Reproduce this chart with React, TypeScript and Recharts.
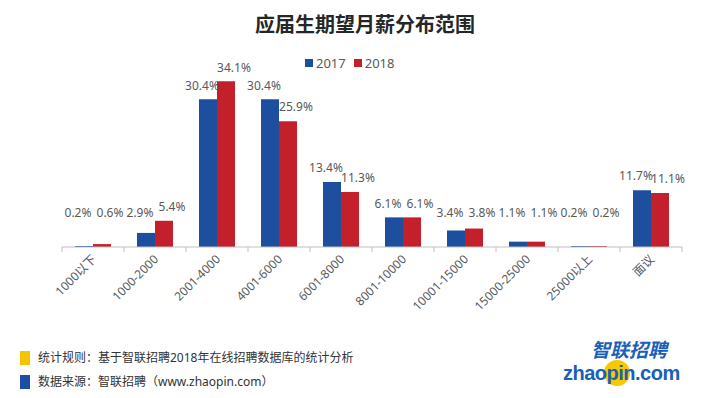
import { Bar, BarChart, LabelList, XAxis, YAxis } from 'recharts';

const CATEGORIES = ['1000以下', '1000-2000', '2001-4000', '4001-6000', '6001-8000', '8001-10000', '10001-15000', '15000-25000', '25000以上', '面议'];
const Y2017 = [0.2, 2.9, 30.4, 30.4, 13.4, 6.1, 3.4, 1.1, 0.2, 11.7];
const Y2018 = [0.6, 5.4, 34.1, 25.9, 11.3, 6.1, 3.8, 1.1, 0.2, 11.1];

const BLUE = '#1d4f9e';
const RED = '#c3202b';
const TEXT = '#595959';
const FONT = '"Noto Sans", "Noto Sans CJK SC", sans-serif';

const W = 720;
const H = 335;
const MARGIN = { top: 77, right: 38, bottom: 0, left: 62 };
const XAXIS_H = 88;
const BASE = H - MARGIN.bottom - XAXIS_H;
const BAND = (W - MARGIN.left - MARGIN.right) / CATEGORIES.length;

const data = CATEGORIES.map((name, i) => ({ name, y2017: Y2017[i], y2018: Y2018[i] }));

const AxisTick = (props: any) => {
  const { x, payload, index } = props;
  const last = index === CATEGORIES.length - 1;
  return (
    <g>
      <line x1={x - BAND / 2} x2={x - BAND / 2} y1={BASE} y2={BASE + 5} stroke="#bfbfbf" />
      {last && <line x1={x + BAND / 2} x2={x + BAND / 2} y1={BASE} y2={BASE + 5} stroke="#bfbfbf" />}
      <text
        x={x + 4}
        y={BASE + 13}
        transform={`rotate(-45 ${x + 4} ${BASE + 13})`}
        textAnchor="end"
        fontSize={12}
        fill={TEXT}
        fontFamily={FONT}
      >
        {payload.value}
      </text>
    </g>
  );
};

// shift: blue labels lean left, red labels lean right, like the source
const makeLabel = (shift: number) => (props: any) => {
  const { x, y, width, value } = props;
  const cy = Math.min(y - 14, BASE - 34);
  return (
    <text x={x + width / 2 + shift} y={cy} dy="0.35em" textAnchor="middle" fontSize={12} fill={TEXT} fontFamily={FONT}>
      {`${value.toFixed(1)}%`}
    </text>
  );
};
const BlueLabel = makeLabel(-6);
const RedLabel = makeLabel(8);

export default function App() {
  return (
    <div style={{ position: 'fixed', left: 0, top: 0, width: W, height: 398, background: '#fff', overflow: 'hidden', fontFamily: FONT }}>
      <div
        style={{
          position: 'absolute',
          left: 0,
          width: W,
          top: 9,
          textAlign: 'center',
          fontSize: 20,
          fontWeight: 'bold',
          color: '#262626',
          paddingLeft: 5,
          fontFamily: '"Noto Sans CJK SC", sans-serif',
        }}
      >
        应届生期望月薪分布范围
      </div>
      <div style={{ position: 'absolute', left: 0, top: 0 }}>
        <BarChart width={W} height={H} data={data} margin={MARGIN} barGap={0} barSize={18}>
          <YAxis hide domain={[0, 35]} />
          <XAxis
            dataKey="name"
            interval={0}
            height={XAXIS_H}
            tickLine={false}
            axisLine={{ stroke: '#bfbfbf' }}
            tick={<AxisTick />}
          />
          <Bar dataKey="y2017" name="2017" fill={BLUE} isAnimationActive={false}>
            <LabelList dataKey="y2017" content={<BlueLabel />} />
          </Bar>
          <Bar dataKey="y2018" name="2018" fill={RED} isAnimationActive={false}>
            <LabelList dataKey="y2018" content={<RedLabel />} />
          </Bar>
        </BarChart>
      </div>
      <div
        style={{ position: 'absolute', left: 305, top: 54, display: 'flex', gap: 8, fontSize: 13, color: TEXT, alignItems: 'center' }}
      >
        {[{ c: BLUE, t: '2017' }, { c: RED, t: '2018' }].map((e) => (
          <span key={e.t} style={{ display: 'flex', alignItems: 'center', gap: 3 }}>
            <span style={{ width: 8, height: 8, background: e.c, display: 'inline-block' }} />
            {e.t}
          </span>
        ))}
      </div>
      <div style={{ position: 'absolute', left: 20, top: 346, fontSize: 12, color: '#333', lineHeight: '24px' }}>
        <div style={{ display: 'flex', alignItems: 'center', gap: 8 }}>
          <span style={{ width: 10, height: 14, background: '#f5c400', display: 'inline-block' }} />
          统计规则：基于智联招聘2018年在线招聘数据库的统计分析
        </div>
        <div style={{ display: 'flex', alignItems: 'center', gap: 8 }}>
          <span style={{ width: 10, height: 14, background: '#1a4fa3', display: 'inline-block' }} />
          数据来源：智联招聘（www.zhaopin.com）
        </div>
      </div>
      <svg style={{ position: 'absolute', left: 555, top: 335 }} width={130} height={60}>
        <circle cx={62} cy={38} r={13} fill="#f8c800" />
        <text x={112} y={22} textAnchor="end" fontSize={19} fontWeight="bold" fontStyle="italic" fill="#1a5fb8" fontFamily='"Noto Sans CJK SC", sans-serif'>
          智联招聘
        </text>
        <text x={8} y={45} fontSize={20} fontWeight="bold" fill="#1a5fb8" fontFamily='"Liberation Sans", sans-serif' letterSpacing={-0.5}>
          zhaopin.com
        </text>
      </svg>
    </div>
  );
}
